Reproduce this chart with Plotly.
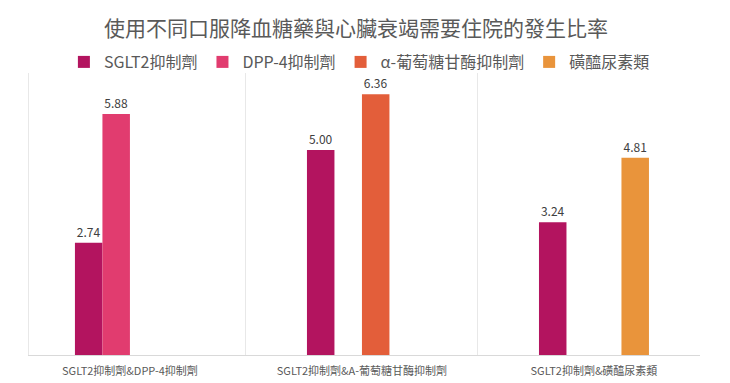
import plotly.graph_objects as go

categories = ["SGLT2抑制劑&DPP-4抑制劑", "SGLT2抑制劑&A-葡萄糖甘酶抑制劑", "SGLT2抑制劑&磺醯尿素類"]
series_names = ["SGLT2抑制劑", "DPP-4抑制劑", "α-葡萄糖甘酶抑制劑", "磺醯尿素類"]
sglt2 = [2.74, 5.00, 3.24]
dpp4 = [5.88, None, None]
alpha = [None, 6.36, None]
sulfo = [None, None, 4.81]
colors = ["#B3145F", "#E13C6F", "#E35E3A", "#E9943B"]

title_text = "使用不同口服降血糖藥與心臟衰竭需要住院的發生比率"

font_family = "Noto Sans CJK TC, Noto Sans, sans-serif"

fig = go.Figure()
for name, vals, col in zip(series_names, [sglt2, dpp4, alpha, sulfo], colors):
    fig.add_trace(go.Bar(
        x=categories, y=vals, name=name,
        marker=dict(color=col, line=dict(width=0)),
        text=[None if v is None else f"{v:.2f}" for v in vals],
        textposition="outside",
        textfont=dict(size=12, color="#404040", family=font_family),
        cliponaxis=False,
    ))

fig.update_layout(
    width=722, height=375,
    margin=dict(l=21, r=30, t=65, b=28, autoexpand=False),
    paper_bgcolor="white", plot_bgcolor="white",
    barmode="group", bargap=0.526, bargroupgap=0,
    title=dict(text=title_text, x=0.482, xanchor="center", xref="container",
               y=1 - 21 / 375, yref="container", yanchor="middle",
               font=dict(size=21, color="#595959", family=font_family)),
    legend=dict(orientation="h", x=0.052, xanchor="left", y=1.039, yanchor="middle",
                font=dict(size=16, color="#595959", family=font_family),
                itemwidth=30, bgcolor="rgba(0,0,0,0)"),
    font=dict(family=font_family, color="#595959"),
    showlegend=True,
)
fig.update_xaxes(
    range=[-0.435, 2.457], showgrid=True, gridcolor="#e8e8e8", tickson="boundaries",
    ticks="", showline=True, linecolor="#d9d9d9", linewidth=1,
    tickfont=dict(size=11, color="#595959", family=font_family),
    ticklabelstandoff=6, automargin=False,
)
fig.update_yaxes(
    range=[0, 6.88], showgrid=False, showticklabels=False, zeroline=False,
    showline=True, linecolor="#e8e8e8", linewidth=1, ticks="", automargin=False,
)

fig.write_html("out.html")
